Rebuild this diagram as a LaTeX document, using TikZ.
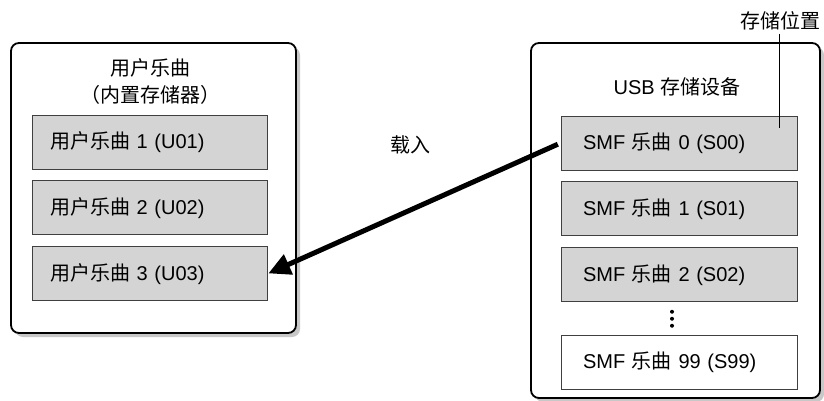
\documentclass[tikz,border=0pt]{standalone}
\usepackage{xcolor}
\usepackage{fontspec}
\setmainfont{Liberation Sans}
\newfontfamily\cjk{Noto Sans CJK SC}
\usepackage{tikz}
\usetikzlibrary{arrows.meta, calc, positioning, shadows}
\newcommand{\zh}[1]{{\cjk #1}}
\definecolor{songgray}{HTML}{D4D4D4}
\definecolor{shadegray}{HTML}{C8C8C8}

\begin{document}
\begin{tikzpicture}[x=1pt, y=-1pt, font=\fontsize{20}{27}\selectfont,
  outer/.style={draw, line width=1.8pt, rounded corners=8pt, fill=white,
    drop shadow={shadow xshift=4pt, shadow yshift=-4pt, fill=shadegray, opacity=1}},
  song/.style={draw=black!75, line width=0.9pt, fill=songgray, minimum height=54pt,
    inner ysep=0pt, align=left},
  lsong/.style={song, text width=199pt, inner xsep=18pt},
  rsong/.style={song, text width=192pt, inner xsep=22pt},
  load/.style={line width=5pt, -{Triangle[length=22pt, width=21pt]}}]
\useasboundingbox (0,0) rectangle (824,401);
% containers
\node[outer, minimum width=285pt, minimum height=290pt] (user) at (153.5,188) {};
\node[outer, minimum width=289pt, minimum height=355pt] (usb) at (675.5,220.5) {};
\node[align=center] (usertitle) at (150,82) {\zh{用户乐曲}\\\zh{（内置存储器）}};
\node (usbtitle) at (677,87) {USB \zh{存储设备}};
% user songs
\node[lsong] (u1) at (149.5,142) {\zh{用户乐曲} 1 (U01)};
\node[lsong, below=11pt of u1] (u2) {\zh{用户乐曲} 2 (U02)};
\node[lsong, below=11pt of u2] (u3) {\zh{用户乐曲} 3 (U03)};
% usb songs
\node[rsong] (s0) at (679,143) {SMF \zh{乐曲} 0 (S00)};
\node[rsong, below=11pt of s0] (s1) {SMF \zh{乐曲} 1 (S01)};
\node[rsong, below=11pt of s1] (s2) {SMF \zh{乐曲} 2 (S02)};
\node[rsong, fill=white, below=33pt of s2] (s99) {SMF \zh{乐曲} 99 (S99)};
\foreach \d in {-7,0,7} {\fill ($(s2.south)!0.5!(s99.north)+(-7,\d)$) circle (2pt);}
% location label
\node (loc) at (780,21) {\zh{存储位置}};
\coordinate (locpt) at (779,128);
\draw[line width=0.7pt] (locpt |- loc.south) -- (locpt);
% load arrow
\node (loadlbl) at (410,145) {\zh{载入}};
\draw[load, shorten <=3pt, shorten >=1pt] (s0.west) -- (u3.east);
\end{tikzpicture}
\end{document}
